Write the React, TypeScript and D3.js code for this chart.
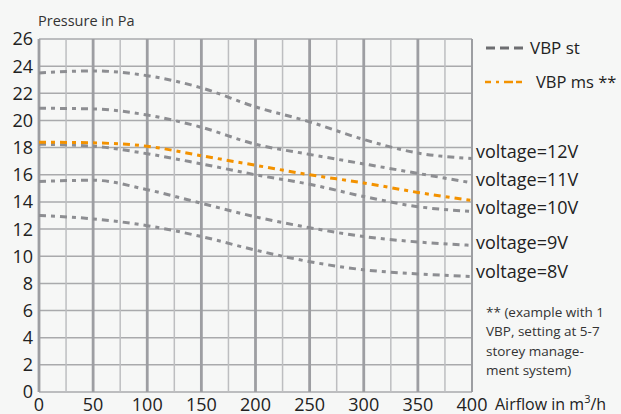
import * as d3 from 'd3'

const width = 621,
      height = 414,
      margin = { top: 39, right: 149, bottom: 22, left: 39 },
      innerWidth = width - margin.left - margin.right,
      innerHeight = height - margin.top - margin.bottom

const airflow = [0, 50, 100, 150, 200, 250, 300, 350, 400]
const v12 = [23.5, 23.65, 23.3, 22.4, 21.0, 19.9, 18.6, 17.6, 17.2]
const v11 = [20.9, 20.85, 20.4, 19.5, 18.25, 17.5, 16.8, 16.1, 15.4]
const v10 = [18.25, 18.1, 17.55, 16.8, 16.0, 15.3, 14.4, 13.65, 13.3]
const v9 = [15.5, 15.6, 14.9, 13.9, 12.9, 12.1, 11.45, 11.05, 10.8]
const v8 = [13.0, 12.75, 12.25, 11.45, 10.45, 9.6, 9.0, 8.7, 8.5]
const ms = [18.4, 18.35, 18.1, 17.4, 16.7, 16.0, 15.4, 14.7, 14.1]

const stSeries = [
  { label: 'voltage=12V', values: v12, labelY: 152 },
  { label: 'voltage=11V', values: v11, labelY: 180 },
  { label: 'voltage=10V', values: v10, labelY: 208 },
  { label: 'voltage=9V', values: v9, labelY: 243 },
  { label: 'voltage=8V', values: v8, labelY: 272 },
]

const yTicks = d3.range(0, 27, 2)
const xTicks = d3.range(0, 401, 50)
const xMinor = d3.range(25, 400, 50)

const noteLines = ['** (example with 1', 'VBP, setting at 5-7', 'storey manage-', 'ment system)']

const font = "'Open Sans', sans-serif"
const gray = '#8d8e92'
const orange = '#f39200'

export default function App() {
  const xScale = d3.scaleLinear().domain([0, 400]).range([0, innerWidth])
  const yScale = d3.scaleLinear().domain([0, 26]).range([innerHeight, 0])

  const line = d3.line<number>()
    .x((d, i) => xScale(airflow[i]))
    .y(d => yScale(d))
    .curve(d3.curveMonotoneX)

  return (
    <div style={{ position: 'fixed', left: 0, top: 0 }}>
      <svg width={width} height={height} style={{ display: 'block', background: '#f6f7f6', fontFamily: font }}>
        <text x={38} y={26} fontSize={14.5} fill='#333'>Pressure in Pa</text>

        <g transform={`translate(${margin.left}, ${margin.top})`}>
          {yTicks.map(t => (
            <line key={'h' + t} x1={0} x2={innerWidth} y1={yScale(t)} y2={yScale(t)} stroke='#a9aaac' strokeWidth={1.5} />
          ))}
          {xMinor.map(t => (
            <line key={'m' + t} x1={xScale(t)} x2={xScale(t)} y1={0} y2={innerHeight} stroke='#bdbec0' strokeWidth={1.5} />
          ))}
          {xTicks.map(t => (
            <line key={'v' + t} x1={xScale(t)} x2={xScale(t)} y1={0} y2={innerHeight}
              stroke='#9d9ea2' strokeWidth={t === 400 ? 2 : 2.8} />
          ))}

          {yTicks.map(t => (
            <text key={'yl' + t} x={-6} y={yScale(t)} dy='0.36em' textAnchor='end' fontSize={18} fill='#222'>{t}</text>
          ))}
          {xTicks.map(t => (
            <text key={'xl' + t} x={xScale(t)} y={innerHeight + 19} textAnchor='middle' fontSize={18} fill='#222'>{t}</text>
          ))}

          {stSeries.map(s => (
            <path key={s.label} d={line(s.values) ?? ''} fill='none' stroke={gray} strokeWidth={3} strokeDasharray='7 5 4 5' />
          ))}
          <path d={line(ms) ?? ''} fill='none' stroke={orange} strokeWidth={3} strokeDasharray='7 5 4 5' />
        </g>

        {stSeries.map(s => (
          <text key={'lab' + s.label} x={476} y={s.labelY} dy='0.36em' fontSize={18} fill='#222'>{s.label}</text>
        ))}

        <line x1={486} x2={523} y1={48} y2={48} stroke='#6d6e71' strokeWidth={3} strokeDasharray='9 5' />
        <text x={530} y={48} dy='0.36em' fontSize={17} fill='#222'>VBP st</text>
        <line x1={485} x2={523} y1={82} y2={82} stroke={orange} strokeWidth={2.5} strokeDasharray='6 5 3 5 9 3' />
        <text x={536} y={82} dy='0.36em' fontSize={16.5} fill='#222'>VBP ms **</text>

        {noteLines.map((l, i) => (
          <text key={l} x={486} y={312 + i * 19.5} dy='0.36em' fontSize={13.5} fill='#333'>{l}</text>
        ))}

        <text x={495} y={410} fontSize={16} fill='#222'>
          Airflow in m<tspan fontSize={11} dy={-7}>3</tspan><tspan dy={7}>/h</tspan>
        </text>
      </svg>
    </div>
  )
}
